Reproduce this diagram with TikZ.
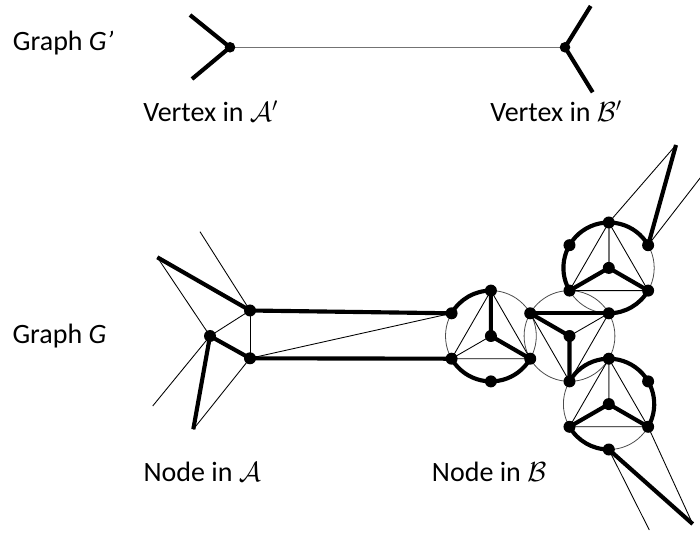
\documentclass[tikz,border=0pt]{standalone}
\usepackage{fontspec}
\setmainfont{Carlito}
\usetikzlibrary{calc}
\newcommand\hexr{45.4}
\begin{document}
\begin{tikzpicture}[x=0.75pt,y=-0.75pt,
  thinedge/.style={line width=0.65pt},
  thickedge/.style={line width=3.1pt},
  grayedge/.style={line width=1.1pt, draw=black!55},
  ring/.style={line width=0.6pt, draw=black!70},
  lbl/.style={anchor=base west, inner sep=0pt, font=\fontsize{21}{25}\selectfont}]
\useasboundingbox (0,0) rectangle (700,538);

% ---------- Graph G' ----------
\coordinate (v1) at (230,47.3);
\coordinate (t1) at (190,15);
\coordinate (t2) at (192,79);
\coordinate (v2) at (565,47.3);
\coordinate (t3) at (590.7,6);
\coordinate (t4) at (592.7,92.3);
\draw[grayedge] (v1) -- (v2);
\draw[thickedge] (t1) -- (v1) -- (t2);
\draw[thickedge] (t3) -- (v2) -- (t4);
\foreach \p in {v1,v2} \fill (\p) circle[radius=5.3];

\node[lbl] (gp) at (12.7,51) {Graph \textit{G’}};
\node[lbl] (va) at (143,121.5) {Vertex in $\mathcal{A}'$};
\node[lbl] (vb) at (490,121.5) {Vertex in $\mathcal{B}'$};

% ---------- Graph G ----------
\coordinate (C1) at (490.9,336);
\coordinate (C2) at (569.5,336);
\coordinate (C3) at (608.8,267.9);
\coordinate (C4) at (608.8,404.1);

% C1 vertices
\coordinate (b1t)  at ($(C1)+(270:\hexr)$);
\coordinate (x12t) at ($(C1)+(330:\hexr)$);
\coordinate (x12b) at ($(C1)+(30:\hexr)$);
\coordinate (b1b)  at ($(C1)+(90:\hexr)$);
\coordinate (b1bl) at ($(C1)+(150:\hexr)$);
\coordinate (b1tl) at ($(C1)+(210:\hexr)$);
% C2 vertices
\coordinate (x23)  at ($(C2)+(270:\hexr)$);
\coordinate (x23b) at ($(C2)+(330:\hexr)$);
\coordinate (x24)  at ($(C2)+(30:\hexr)$);
\coordinate (x24b) at ($(C2)+(90:\hexr)$);
% C3 vertices
\coordinate (b3t)  at ($(C3)+(270:\hexr)$);
\coordinate (b3tr) at ($(C3)+(330:\hexr)$);
\coordinate (b3br) at ($(C3)+(30:\hexr)$);
\coordinate (b3tl) at ($(C3)+(210:\hexr)$);
% C4 vertices
\coordinate (b4tr) at ($(C4)+(330:\hexr)$);
\coordinate (b4br) at ($(C4)+(30:\hexr)$);
\coordinate (b4b)  at ($(C4)+(90:\hexr)$);
\coordinate (b4bl) at ($(C4)+(150:\hexr)$);

% A node
\coordinate (a1) at (250,310.5);
\coordinate (a2) at (250,358.3);
\coordinate (a3) at (210,336);
\coordinate (e1) at (157.3,257.3);
\coordinate (e2) at (200,231.7);
\coordinate (e3) at (152.7,406);
\coordinate (e4) at (193.3,429.3);
% outer ends
\coordinate (f1) at (676,145);
\coordinate (f2) at (702,175.6);
\coordinate (g1) at (692.7,524);
\coordinate (g2) at (649.3,530);

% rings
\foreach \c in {C1,C2,C3,C4} \draw[ring] (\c) circle[radius=\hexr];

% A part
\draw[thinedge] (e1) -- (a3);
\draw[thinedge] (e2) -- (a1);
\draw[thinedge] (a3) -- (e3);
\draw[thinedge] (e4) -- (a2);
\draw[thinedge] (a1) -- (a3);
\draw[thinedge] (a1) -- (a2);
\draw[thinedge] (a2) -- (b1tl);
\draw[thickedge] (e1) -- (a1);
\draw[thickedge] (a3) -- (e4);
\draw[thickedge] (a3) -- (a2);
\draw[thickedge] (a1) -- (b1tl);
\draw[thickedge] (a2) -- (b1bl);

% C1
\draw[thinedge] (b1t) -- (b1bl) -- (x12b) -- cycle;
\draw[thinedge] (C1) -- (b1bl);
\draw[thickedge] (b1t) -- (C1) -- (x12b);
\draw[thickedge] (b1tl) arc[start angle=210, end angle=270, radius=\hexr];
\draw[thickedge] (x12b) arc[start angle=30, end angle=150, radius=\hexr];

% C2
\draw[thinedge] (x12t) -- (x24b) -- (x23b);
\draw[thinedge] (C2) -- (x23b);
\draw[thickedge] (x12t) -- (x23b);
\draw[thickedge] (x12t) -- (C2) -- (x24b);

% C3
\draw[thinedge] (b3t) -- (x23) -- (b3br) -- cycle;
\draw[grayedge] (C3) -- (b3t);
\draw[thickedge] (x23) -- (C3) -- (b3br);
\draw[thickedge] (x23) arc[start angle=150, end angle=330, radius=\hexr];
\draw[thickedge] (b3br) arc[start angle=30, end angle=90, radius=\hexr];
\draw[thinedge] (b3t) -- (f1);
\draw[thinedge] (b3tr) -- (f2);
\draw[thickedge] (b3tr) -- (f1);

% C4
\draw[thinedge] (x24) -- (b4bl) -- (b4br) -- cycle;
\draw[grayedge] (C4) -- (x24);
\draw[thickedge] (b4bl) -- (C4) -- (b4br);
\draw[thickedge] (x24b) arc[start angle=210, end angle=390, radius=\hexr];
\draw[thickedge] (b4b) arc[start angle=90, end angle=150, radius=\hexr];
\draw[thinedge] (b4br) -- (g1);
\draw[thinedge] (b4b) -- (g2);
\draw[thickedge] (b4b) -- (g1);

% dots
\foreach \p in {a1,a2,a3,C1,b1t,x12t,x12b,b1b,b1bl,b1tl,C2,x23,x23b,x24,x24b,C3,b3t,b3tr,b3br,b3tl,C4,b4tr,b4br,b4b,b4bl}
  \fill (\p) circle[radius=6];

\node[lbl] (g) at (12.3,343.3) {Graph \textit{G}};
\node[lbl] (na) at (143.3,481.7) {Node in $\mathcal{A}$};
\node[lbl] (nb) at (431.7,481.7) {Node in $\mathcal{B}$};
\end{tikzpicture}
\end{document}
